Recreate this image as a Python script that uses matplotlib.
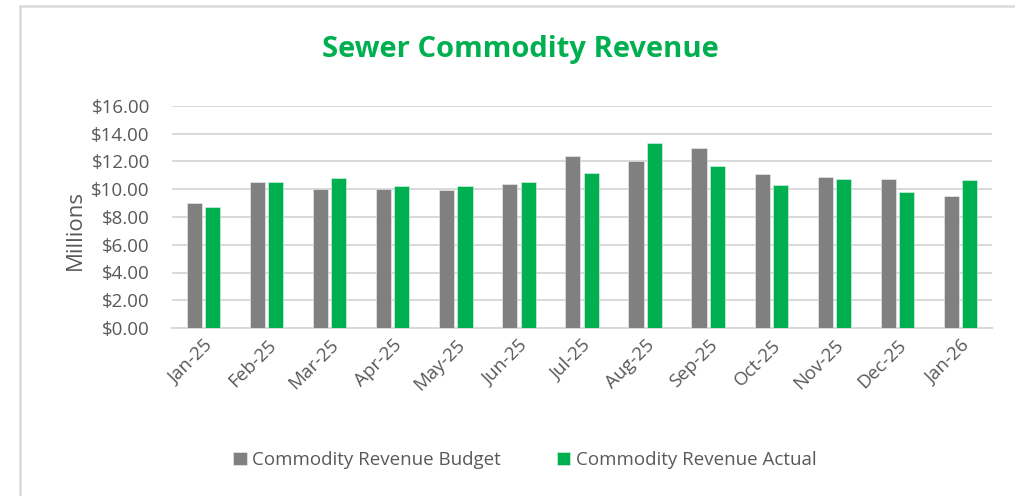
import matplotlib.pyplot as plt
import numpy as np
from matplotlib.patches import Rectangle
from matplotlib.ticker import FuncFormatter

months = ['Jan-25', 'Feb-25', 'Mar-25', 'Apr-25', 'May-25', 'Jun-25', 'Jul-25',
          'Aug-25', 'Sep-25', 'Oct-25', 'Nov-25', 'Dec-25', 'Jan-26']
budget = [9.00, 10.52, 10.04, 10.04, 9.97, 10.40, 12.40, 12.04, 12.97, 11.07, 10.91, 10.72, 9.49]
actual = [8.74, 10.52, 10.79, 10.23, 10.23, 10.52, 11.18, 13.36, 11.65, 10.33, 10.72, 9.78, 10.64]
yticks = [0, 2, 4, 6, 8, 10, 12, 14, 16]

GRAY = '#808080'
GREEN = '#00B050'
TEXT = '#595959'

plt.rcParams['font.family'] = ['Open Sans', 'DejaVu Sans']

fig = plt.figure(figsize=(10.15, 4.96), dpi=100)

# light frame round the chart (left and top edges show)
fig.patches.append(Rectangle((20 / 1015, -0.1), 1.2, (496 - 6) / 496 + 0.1,
                             transform=fig.transFigure, fill=False,
                             edgecolor='#D9D9D9', linewidth=1.8))

ax = fig.add_axes([172 / 1015, 1 - 328 / 496, (992 - 172) / 1015, (328 - 106) / 496])

x = np.arange(len(months))
w = 0.24
ax.bar(x - w / 2 - 0.025, budget, w, color=GRAY, edgecolor='#f0f0f0', linewidth=0.4,
       label='Commodity Revenue Budget', zorder=3)
ax.bar(x + w / 2 + 0.025, actual, w, color=GREEN, edgecolor='#e0f5e8', linewidth=0.4,
       label='Commodity Revenue Actual', zorder=3)

ax.set_xlim(-0.5, len(months) - 0.5)
ax.set_ylim(0, 16)
ax.set_yticks(yticks)
ax.yaxis.set_major_formatter(FuncFormatter(lambda v, p: f'${v:.2f}'))
ax.grid(axis='y', color='#D9D9D9', linewidth=1.4, zorder=0)
for s in ['top', 'right', 'left']:
    ax.spines[s].set_visible(False)
ax.spines['bottom'].set_color('#D9D9D9')
ax.spines['bottom'].set_linewidth(1.4)
ax.tick_params(axis='both', length=0, colors=TEXT, labelsize=13.5)
ax.tick_params(axis='y', pad=16)

ax.set_xticks(x)
ax.set_xticklabels(months, rotation=45, ha='right', rotation_mode='anchor')
ax.tick_params(axis='x', pad=6)

ax.set_ylabel('Millions', color=TEXT, fontsize=16)
ax.yaxis.set_label_coords(-0.105, 0.44)

fig.text(520 / 1015, 1 - 50 / 496, 'Sewer Commodity Revenue', color=GREEN,
         fontsize=21, fontweight='bold', ha='center', va='center')

fig.legend(loc='center', bbox_to_anchor=(525 / 1015, 1 - 460 / 496), ncol=2,
           frameon=False, fontsize=13.5, labelcolor=TEXT, handlelength=0.7,
           handleheight=0.7, handletextpad=0.3, columnspacing=3)

fig.savefig('out.png', dpi=100)
